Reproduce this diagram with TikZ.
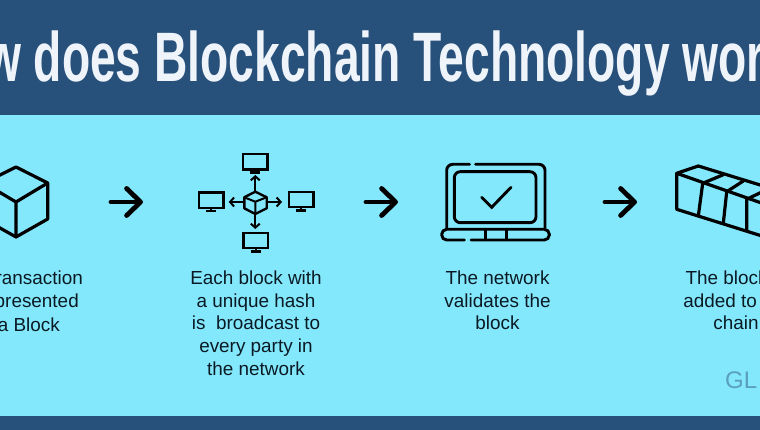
\documentclass[tikz,border=0pt]{standalone}
\usepackage{fontspec}
\setmainfont{Liberation Sans}
\usetikzlibrary{arrows.meta}
\definecolor{headblue}{HTML}{27507A}
\definecolor{skyblue}{HTML}{84E8FC}
\definecolor{titlewhite}{HTML}{EEF4FA}
\definecolor{inkdark}{HTML}{0A1A24}
\definecolor{logoblue}{HTML}{5A9FBE}
\tikzset{
  x=1pt,y=-1pt,
  iconline/.style={draw=black,line width=3.2pt,line join=round,line cap=round},
  thinicon/.style={draw=black,line width=2.4pt,line join=miter},
  bigarrow/.style={draw=black,line width=4.8pt,line cap=round,
    -{Straight Barb[round,length=14pt,width=27pt,line width=4.8pt]}},
  netarrow/.style={draw=black,line width=2pt,
    -{Straight Barb[length=4pt,width=9pt,line width=2pt]}},
  caption/.style={font=\fontsize{18.9pt}{22.8pt}\selectfont,text=inkdark,align=center,inner sep=0pt,anchor=north},
}
\newcommand{\monitor}[2]{%
  \draw[thinicon] (#1-12.3,#2-7.7) rectangle (#1+12.3,#2+7.7);
  \draw[thinicon] (#1,#2+7.7) -- (#1,#2+10.8);
  \draw[thinicon] (#1-5,#2+11) -- (#1+5,#2+11);
}
\begin{document}
\begin{tikzpicture}
\useasboundingbox (0,0) rectangle (760,430);
\clip (0,0) rectangle (760,430);
\fill[skyblue] (0,0) rectangle (760,430);
\fill[headblue] (0,0) rectangle (760,115);
\fill[headblue] (0,415.5) rectangle (760,430);
\node[anchor=base,inner sep=0pt,text=titlewhite] (title) at (371,82)
  {\scalebox{0.66}[1]{\fontsize{70pt}{70pt}\selectfont\bfseries How does Blockchain Technology work?}};

% cube
\draw[iconline] (16,167) -- (47.7,183) -- (47.7,219) -- (16,237) -- (-16,219) -- (-16,183) -- cycle;
\draw[iconline] (-16,183) -- (16,202) -- (47.7,183) (16,202) -- (16,237);

% big arrows
\coordinate (a1s) at (111,202); \coordinate (a1e) at (143,202);
\coordinate (a2s) at (366,202); \coordinate (a2e) at (398,202);
\coordinate (a3s) at (605,202); \coordinate (a3e) at (637,202);
\draw[bigarrow] (a1s) -- (a1e);
\draw[bigarrow] (a2s) -- (a2e);
\draw[bigarrow] (a3s) -- (a3e);

% network
\monitor{255}{161.7}
\monitor{211}{200.2}
\monitor{301}{199.5}
\monitor{255.8}{240.5}
\coordinate (hubT) at (255.3,191.7); \coordinate (hubB) at (255.3,214);
\coordinate (hubL) at (244.3,202); \coordinate (hubR) at (266.7,202);
\draw[netarrow] (hubT) -- (255.3,175);
\draw[netarrow] (hubB) -- (255.3,229);
\draw[netarrow] (hubL) -- (228.7,202);
\draw[netarrow] (hubR) -- (282,202);
\draw[draw=black,line width=2.4pt,line join=round] (255.3,191.7) -- (266.7,197.3) -- (266.7,208.3) -- (255.3,214) -- (244.3,208.3) -- (244.3,197.3) -- cycle;
\draw[draw=black,line width=2pt] (244.3,197.3) -- (255.3,201.7) -- (266.7,197.3) (255.3,201.7) -- (255.3,214);

% laptop
\begin{scope}[draw=black,line width=2.9pt,line cap=round]
\draw[rounded corners=6pt] (469.5,164.3) -- (446.7,164.3) -- (446.7,228);
\draw[rounded corners=6pt] (475.5,164.3) -- (545,164.3) -- (545,228);
\draw[rounded corners=6pt] (454.3,171.7) rectangle (536,222.7);
\draw[rounded corners=5pt] (464.5,240) -- (441.7,240) -- (441.7,229.3) -- (549.3,229.3) -- (549.3,240) -- (471,240);
\draw (485.3,230) -- (485.3,239.5) (506.7,230) -- (506.7,239.5);
\draw (481.7,197.3) -- (491.7,207.3) -- (511,187.3);
\end{scope}

% chain of blocks
\draw[iconline] (698.3,166) -- (676.7,173.3) -- (676.7,209.3) -- (770,238.5);
\draw[iconline] (698.3,166) -- (770,188);
\draw[iconline] (676.7,173.3) -- (770,206);
\draw[iconline] (702.7,183.3) -- (698.3,216) (726.7,191.7) -- (723.3,223.3) (746.7,199.3) -- (746.7,230.7);
\draw[iconline] (723.3,174.7) -- (702.7,183.3) (743.3,181) -- (726.7,191.7) (765,190.5) -- (746.7,199.3);

% captions
\node[caption,anchor=north east,align=right,font=\fontsize{18.9pt}{23.5pt}\selectfont] (t1) at (83,270.5) {A Transaction\\is represented\rule{4pt}{0pt}\\as a Block\rule{23pt}{0pt}};
\node[caption] (t2) at (256,270.5) {Each block with\\a unique hash\\is\ \ broadcast to\\every party in\\the network};
\node[caption] (t3) at (497.5,270.5) {The network\\validates the\\block};
\node[caption] (t4) at (736,270.5) {The block is\\added to the\\chain};
\node[anchor=base west,inner sep=0pt,text=logoblue,font=\fontsize{24pt}{24pt}\selectfont] (logo) at (725,388) {GL};
\end{tikzpicture}
\end{document}
